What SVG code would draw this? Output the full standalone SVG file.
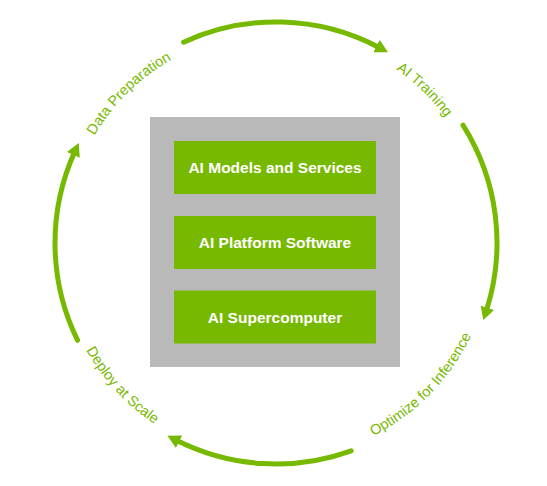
<svg xmlns="http://www.w3.org/2000/svg" width="547" height="486" viewBox="0 0 547 486">
  <style>
    .arc { fill: none; stroke: #76b900; stroke-width: 5; stroke-linecap: round; }
    .lbl { font-family: "Liberation Sans", Arial, sans-serif; font-size: 14.5px; fill: #76b900; }
    .box { fill: #76b900; }
    .boxtxt { font-family: "Liberation Sans", Arial, sans-serif; font-size: 15.5px; font-weight: bold; fill: #ffffff; text-anchor: middle; }
  </style>
  <defs>
    <marker id="ah" markerUnits="userSpaceOnUse" viewBox="0 0 13 14" markerWidth="13" markerHeight="14" refX="3" refY="7" orient="auto">
      <path d="M0,0 L13,7 L0,14 Z" fill="#76b900"/>
    </marker>
    <path id="pDP" d="M66.0,222.8 A211,211 0 0 1 259.4,32.7"/>
    <path id="pAT" d="M291.1,32.5 A211,211 0 0 1 485.9,221.3"/>
    <path id="pOI" d="M297.4,457.9 A216,216 0 0 0 491.4,259.2"/>
    <path id="pDS" d="M58.3,253.6 A218,218 0 0 0 248.7,459.3"/>
  </defs>

  <rect x="0" y="0" width="547" height="486" fill="#ffffff"/>

  <g id="connectors">
    <path class="arc" d="M183.6,42.2 A221,221 0 0 1 379.1,47.5" marker-end="url(#ah)"/>
    <path class="arc" d="M463.0,125.2 A221,221 0 0 1 486.4,310.6" marker-end="url(#ah)"/>
    <path class="arc" d="M351.2,450.8 A221,221 0 0 1 176.4,440.3" marker-end="url(#ah)"/>
    <path class="arc" d="M77.5,340.2 A221,221 0 0 1 74.6,152.1" marker-end="url(#ah)"/>
  </g>

  <g id="label-data-preparation">
    <text class="lbl"><textPath href="#pDP" startOffset="50%" text-anchor="middle">Data Preparation</textPath></text>
  </g>
  <g id="label-ai-training">
    <text class="lbl"><textPath href="#pAT" startOffset="50%" text-anchor="middle">AI Training</textPath></text>
  </g>
  <g id="label-optimize">
    <text class="lbl"><textPath href="#pOI" startOffset="50%" text-anchor="middle">Optimize for Inference</textPath></text>
  </g>
  <g id="label-deploy">
    <text class="lbl"><textPath href="#pDS" startOffset="50%" text-anchor="middle">Deploy at Scale</textPath></text>
  </g>

  <g id="stack">
    <rect x="150" y="117" width="250" height="250" fill="#b9b9b9"/>
  </g>
  <g id="ai-models">
    <rect class="box" x="174" y="141" width="202" height="53"/>
    <text class="boxtxt" x="275" y="173">AI Models and Services</text>
  </g>
  <g id="ai-platform">
    <rect class="box" x="174" y="216" width="202" height="53"/>
    <text class="boxtxt" x="275" y="248">AI Platform Software</text>
  </g>
  <g id="ai-supercomputer">
    <rect class="box" x="174" y="290.5" width="202" height="53"/>
    <text class="boxtxt" x="275" y="322.5">AI Supercomputer</text>
  </g>
</svg>
